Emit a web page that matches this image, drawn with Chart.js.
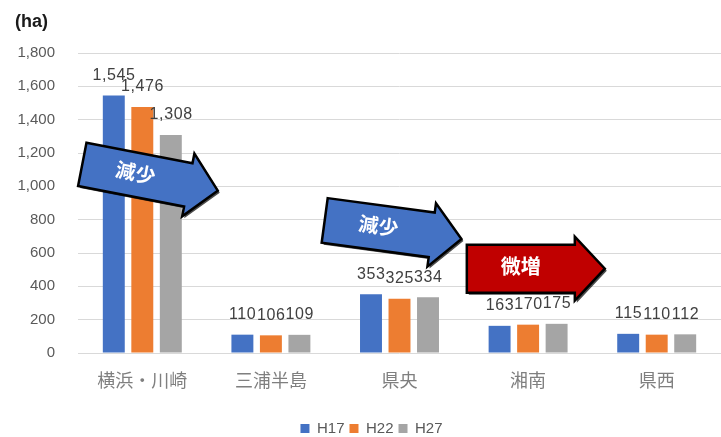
<!DOCTYPE html>
<html>
<head>
<meta charset="utf-8">
<script src="https://cdn.jsdelivr.net/npm/chart.js@4"></script>
<style>
  body { margin: 0; background: #fff; }
  #wrap { width: 721px; height: 437px; }
</style>
</head>
<body>
<div id="wrap"><canvas id="areaChart" width="721" height="437"></canvas></div>
<script>
var regions = ['横浜・川崎', '三浦半島', '県央', '湘南', '県西'];
var h17 = [1545, 110, 353, 163, 115];
var h22 = [1476, 106, 325, 170, 110];
var h27 = [1308, 109, 334, 175, 112];
var seriesNames = ['H17', 'H22', 'H27'];

// arrows laid on top of the chart (index along the categories, value on the y axis)
var arrowNotes = [
    { text: '減少', at: 0.06, value: 1053, angle: 11, fill: '#4472C4', body: 44 },
    { text: '減少', at: 1.95, value: 740, angle: 7.7, fill: '#4472C4', body: 45 },
    { text: '微増', at: 3.06, value: 506, angle: 0, fill: '#C00000', body: 48 }
];

var valueLabels = {
    id: 'valueLabels',
    afterDatasetsDraw: function (chart) {
        var ctx = chart.ctx;
        ctx.save();
        ctx.font = '16px "Liberation Sans", sans-serif';
        ctx.letterSpacing = '0.6px';
        ctx.fillStyle = '#404040';
        ctx.textAlign = 'center';
        ctx.textBaseline = 'middle';
        chart.data.datasets.forEach(function (ds, i) {
            chart.getDatasetMeta(i).data.forEach(function (bar, j) {
                ctx.fillText(ds.data[j].toLocaleString('en-US'), bar.x + 0.3, bar.y - 20);
            });
        });
        ctx.restore();
    }
};

// nudge the legend right and down, like the original
var legendShift = {
    id: 'legendShift',
    afterLayout: function (chart) {
        var lg = chart.legend;
        lg.left += 22;
        lg.top += 9;
        lg.bottom += 9;
    }
};

var arrows = {
    id: 'arrows',
    afterDraw: function (chart) {
        var ctx = chart.ctx;
        var xs = chart.scales.x, ys = chart.scales.y;
        var L = 138, hl = 30, hh = 64;
        arrowNotes.forEach(function (a) {
            var cx = xs.getPixelForValue(a.at);
            var cy = ys.getPixelForValue(a.value);
            var bh = a.body;
            ctx.save();
            ctx.translate(cx, cy);
            ctx.rotate(a.angle * Math.PI / 180);
            ctx.beginPath();
            ctx.moveTo(-L / 2, -bh / 2);
            ctx.lineTo(L / 2 - hl, -bh / 2);
            ctx.lineTo(L / 2 - hl, -hh / 2);
            ctx.lineTo(L / 2, 0);
            ctx.lineTo(L / 2 - hl, hh / 2);
            ctx.lineTo(L / 2 - hl, bh / 2);
            ctx.lineTo(-L / 2, bh / 2);
            ctx.closePath();
            ctx.shadowColor = 'rgba(0,0,0,0.7)';
            ctx.shadowOffsetX = 2;
            ctx.shadowOffsetY = 2;
            ctx.fillStyle = a.fill;
            ctx.fill();
            ctx.shadowColor = 'transparent';
            ctx.lineWidth = 2.5;
            ctx.strokeStyle = '#000';
            ctx.stroke();
            ctx.fillStyle = '#fff';
            ctx.font = 'bold 20px "Noto Sans CJK JP", sans-serif';
            ctx.textAlign = 'center';
            ctx.textBaseline = 'middle';
            ctx.fillText(a.text, -hl / 2, -2);
            ctx.restore();
        });
        // unit
        ctx.save();
        ctx.font = 'bold 18px "Liberation Sans", sans-serif';
        ctx.fillStyle = '#1a1a1a';
        ctx.textBaseline = 'middle';
        ctx.fillText('(ha)', 15, 22);
        ctx.restore();
    }
};

var colors = ['#4472C4', '#ED7D31', '#A5A5A5'];
var ctx = document.getElementById('areaChart').getContext('2d');
var chart = new Chart(ctx, {
    type: 'bar',
    data: {
        labels: regions,
        datasets: [h17, h22, h27].map(function (vals, i) {
            return {
                label: seriesNames[i],
                data: vals,
                backgroundColor: colors[i],
                categoryPercentage: 0.665,
                barPercentage: 0.77
            };
        })
    },
    options: {
        responsive: false,
        animation: false,
        layout: { padding: { top: 53, left: 0, right: 0, bottom: 0 } },
        plugins: {
            legend: {
                position: 'bottom',
                labels: {
                    boxWidth: 9,
                    boxHeight: 9,
                    padding: 5,
                    color: '#595959',
                    font: { family: '"Liberation Sans", sans-serif', size: 15 }
                }
            },
            tooltip: { enabled: false }
        },
        scales: {
            x: {
                grid: { display: false },
                border: { display: false },
                ticks: {
                    color: '#7f7f7f',
                    padding: 8,
                    font: { family: '"Noto Sans CJK JP", sans-serif', size: 18 }
                },
                afterFit: function (s) { s.height = 54; }
            },
            y: {
                min: 0,
                max: 1800,
                border: { display: false },
                grid: { color: '#d9d9d9', drawTicks: false },
                ticks: {
                    stepSize: 200,
                    padding: 23,
                    color: '#595959',
                    font: { family: '"Liberation Sans", sans-serif', size: 15 }
                },
                afterFit: function (s) { s.width = 78; }
            }
        }
    },
    plugins: [valueLabels, legendShift, arrows]
});
</script>
</body>
</html>
